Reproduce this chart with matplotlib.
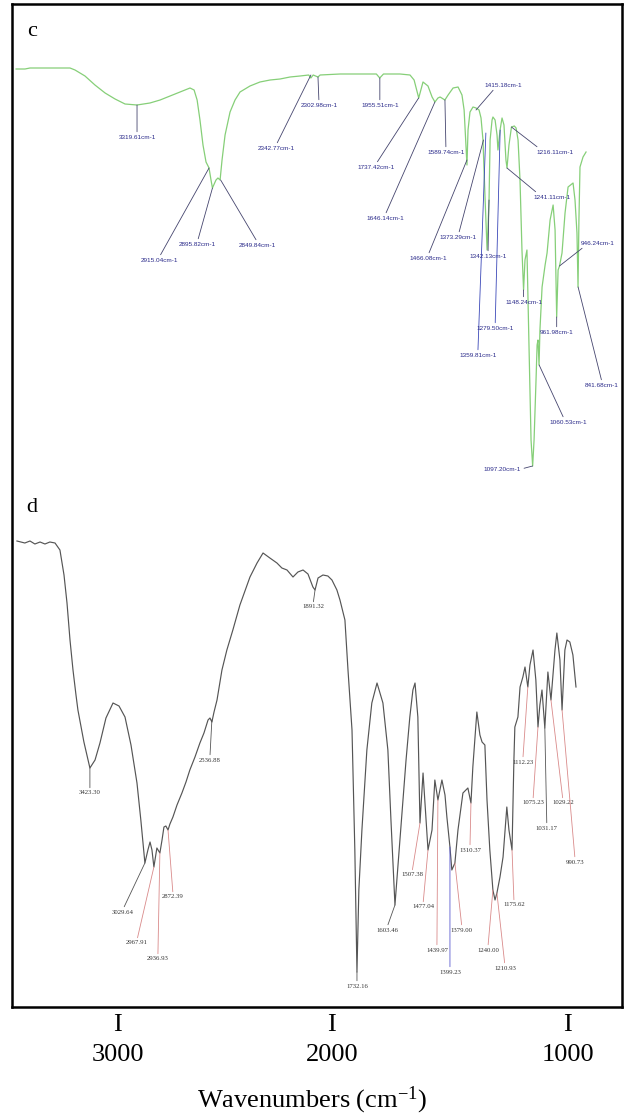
import numpy as np
import matplotlib
matplotlib.use('Agg')
import matplotlib.pyplot as plt

plt.rcParams['font.family'] = ['Liberation Serif', 'DejaVu Serif']
plt.rcParams['mathtext.default'] = 'regular'

# ---- panel c : wavenumber (cm-1) / transmittance (%)
c_wn = [3999, 3949, 3921, 3808, 3696, 3668, 3612, 3556, 3499, 3443,
        3387, 3320, 3247, 3190, 3134, 3078, 3022, 2999, 2982, 2966,
        2949, 2932, 2915, 2904, 2896, 2876, 2865, 2853, 2842, 2825,
        2797, 2769, 2741, 2685, 2629, 2572, 2516, 2460, 2404, 2355,
        2343, 2330, 2303, 2291, 2179, 2067, 1975, 1956, 1935, 1842,
        1786, 1763, 1737, 1725, 1713, 1685, 1662, 1646, 1629, 1617,
        1590, 1572, 1544, 1516, 1494, 1482, 1466, 1460, 1449, 1432,
        1415, 1398, 1387, 1376, 1364, 1353, 1342, 1336, 1325, 1320,
        1308, 1297, 1292, 1280, 1269, 1258, 1247, 1241, 1230, 1216,
        1200, 1190, 1179, 1168, 1157, 1148, 1140, 1129, 1117, 1106,
        1097, 1089, 1078, 1072, 1067, 1061, 1056, 1044, 1027, 1016,
        999, 982, 971, 962, 954, 946, 932, 915, 898, 870,
        859, 848, 842, 837, 831, 814, 797]
c_t = [86.2, 86.2, 86.4, 86.4, 86.4, 86.0, 84.8, 83.0, 81.4, 80.2,
       79.2, 79.0, 79.4, 80.0, 80.8, 81.6, 82.4, 82.0, 80.0, 76.0,
       71.0, 67.6, 66.4, 64.0, 62.4, 64.0, 64.4, 64.0, 68.0, 73.0,
       77.6, 80.0, 81.6, 82.8, 83.6, 84.0, 84.2, 84.6, 84.8, 85.0,
       84.4, 85.0, 84.6, 85.0, 85.2, 85.2, 85.2, 84.4, 85.2, 85.2,
       85.0, 84.0, 80.4, 82.0, 83.6, 82.8, 80.6, 79.6, 80.4, 80.6,
       80.0, 81.0, 82.4, 82.6, 81.0, 78.0, 67.0, 74.0, 77.6, 78.6,
       78.4, 78.0, 76.4, 72.0, 60.0, 50.0, 60.0, 72.0, 76.0, 76.6,
       76.0, 73.0, 70.0, 74.0, 76.4, 75.0, 68.0, 66.4, 71.0, 74.6,
       74.8, 74.4, 72.0, 64.0, 50.0, 42.0, 48.0, 50.0, 30.0, 12.0,
       6.8, 12.0, 24.0, 31.0, 32.0, 27.0, 34.0, 42.6, 47.0, 49.4,
       56.0, 59.0, 54.0, 36.6, 46.0, 46.8, 49.4, 57.4, 62.6, 63.4,
       60.0, 53.4, 42.6, 56.0, 66.6, 68.6, 69.6]

c_peaks = [3319.61, 2915.04, 2895.82, 2849.84, 2342.77, 2302.98, 1955.51,
           1737.42, 1646.14, 1589.74, 1466.08, 1415.18, 1373.29, 1359.81,
           1342.13, 1279.50, 1241.11, 1216.11, 1148.24, 1097.20, 1060.53,
           961.98, 946.24, 841.68]
c_peak_t = [79.0, 66.4, 62.4, 64.0, 85.0, 84.6, 84.4,
            80.4, 79.6, 80.0, 68.0, 78.0, 72.0, 73.4,
            60.0, 74.0, 66.4, 74.6, 42.0, 6.8, 27.0,
            36.6, 46.8, 42.6]

# ---- panel d : position on the bottom wavenumber axis / transmittance (%)
d_wn = [3472, 3435, 3411, 3388, 3364, 3341, 3318, 3294, 3271, 3252,
        3238, 3224, 3210, 3196, 3187, 3159, 3131, 3107, 3084, 3056,
        3023, 2995, 2967, 2939, 2911, 2893, 2874, 2860, 2850, 2841,
        2832, 2818, 2804, 2794, 2785, 2776, 2766, 2757, 2743, 2724,
        2701, 2682, 2664, 2640, 2617, 2598, 2579, 2570, 2561, 2551,
        2537, 2514, 2491, 2463, 2430, 2383, 2350, 2322, 2290, 2257,
        2234, 2210, 2182, 2159, 2135, 2112, 2089, 2079, 2065, 2042,
        2019, 2000, 1979, 1966, 1945, 1932, 1915, 1903, 1894, 1886,
        1873, 1852, 1831, 1809, 1784, 1763, 1750, 1733, 1725, 1712,
        1699, 1686, 1670, 1657, 1648, 1636, 1627, 1614, 1602, 1593,
        1576, 1564, 1551, 1534, 1521, 1513, 1500, 1492, 1479, 1466,
        1445, 1424, 1411, 1403, 1386, 1373, 1364, 1352, 1343, 1331,
        1318, 1309, 1301, 1288, 1275, 1259, 1250, 1237, 1229, 1225,
        1212, 1203, 1191, 1182, 1170, 1161, 1148, 1136, 1127, 1119,
        1110, 1098, 1085, 1072, 1055, 1047, 1034, 1025, 1013, 1004,
        992, 979, 966]
d_t = [89.8, 89.4, 89.8, 89.2, 89.6, 89.2, 89.6, 89.4, 88.0, 83.0,
       77.4, 70.0, 64.0, 59.0, 56.0, 49.6, 44.4, 46.0, 49.4, 54.4,
       57.4, 56.8, 54.6, 49.0, 41.4, 34.0, 25.4, 28.0, 29.6, 28.0,
       24.6, 28.4, 27.4, 30.0, 32.6, 32.8, 32.0, 33.2, 34.6, 37.0,
       39.4, 41.6, 44.0, 46.6, 49.4, 51.4, 54.0, 54.4, 53.6, 55.6,
       58.0, 64.0, 68.0, 72.0, 77.0, 82.6, 85.4, 87.4, 86.4, 85.4,
       84.4, 84.0, 82.6, 83.6, 84.0, 83.2, 80.6, 80.0, 82.4, 83.0,
       82.8, 82.0, 80.0, 78.0, 74.0, 64.0, 52.0, 28.0, 3.6, 20.0,
       32.0, 48.0, 57.4, 61.4, 57.4, 48.0, 34.0, 17.0, 22.0, 30.0,
       38.0, 46.0, 54.6, 60.0, 61.4, 54.6, 33.4, 43.4, 34.6, 28.0,
       32.0, 42.0, 38.0, 42.0, 39.0, 34.6, 28.6, 24.0, 25.4, 32.0,
       39.4, 40.4, 37.4, 44.6, 55.6, 51.0, 49.6, 49.0, 38.0, 28.0,
       20.0, 18.0, 19.4, 22.6, 26.6, 36.6, 32.0, 28.0, 46.0, 52.6,
       54.6, 60.6, 62.6, 64.6, 60.6, 65.0, 68.0, 62.0, 52.6, 57.0,
       60.0, 52.4, 63.6, 58.0, 68.0, 71.4, 66.0, 56.0, 68.0, 70.0,
       69.6, 67.0, 60.6]

d_labels = ['3423.30', '3029.64', '2967.91', '2936.93', '2872.39', '2536.88',
            '1891.32', '1732.16', '1603.46', '1507.38', '1477.04', '1439.97',
            '1399.23', '1379.00', '1310.37', '1240.00', '1210.93', '1175.62',
            '1112.23', '1075.23', '1031.17', '1029.22', '990.73']
d_label_wn = [3131, 2874, 2832, 2804, 2766, 2561,
              2079, 1894, 1733, 1627, 1593, 1551,
              1500, 1479, 1411, 1318, 1301, 1237,
              1170, 1127, 1098, 1072, 1025]
d_label_t = [44.4, 25.4, 24.6, 27.4, 32.0, 54.0,
             80.0, 3.6, 17.0, 33.4, 28.0, 38.0,
             28.6, 25.4, 37.4, 20.0, 19.4, 28.0,
             60.6, 52.6, 52.4, 58.0, 56.0]

ticks = [3000, 2000, 1000]

# label placement (pixel offsets from the pointed spot) and pointer colours
c_off = [(0, -32), (-50, -92), (-15, -56), (37, -65), (-35, -73), (1, -28),
         (0, -27), (-43, -69), (-50, -116), (1, -52), (-39, -98), (27, 25),
         (-25, -97), (-8, -222), (-1, -56), (-5, -198), (45, -29), (44, -25),
         (0, -12), (-30, -3), (29, -57), (0, -15), (38, 23), (24, -98)]
c_rel = {'1415.18': (0.3, 0), '1241.11': (0.15, 1), '1216.11': (0.1, 1),
         '1097.20': (1, 0.5), '946.24': (0.15, 0), '1060.53': (0.4, 1)}
c_blue = ['1359.81', '1279.50']

d_off = [(0, -25), (-22, -49), (-17, -76), (-2, -106), (5, -67), (-2, -40),
         (-2, -17), (0, -14), (-8, -25), (-8, -52), (-5, -57), (-1, -150),
         (0, -125), (7, -67), (-1, -47), (-5, -60), (8, -75), (2, -55),
         (-5, -75), (-5, -76), (2, -100), (12, -103), (13, -152)]
d_red = ['2967.91', '2936.93', '2872.39', '1507.38', '1477.04', '1439.97',
         '1379.00', '1310.37', '1240.00', '1210.93', '1175.62', '1112.23',
         '1075.23', '1029.22', '990.73']


# the printed wavenumber axis is not quite linear: 3000-2000 is narrower
def fwd(w):
    return np.interp(w, [0, 1000, 2000, 3000, 5000], [0, 236, 472, 686, 1114])


def inv(u):
    return np.interp(u, [0, 236, 472, 686, 1114], [0, 1000, 2000, 3000, 5000])


W, H = 628, 1116
fig = plt.figure(figsize=(W / 100, H / 100), dpi=100)

# outer frame round both panels
ax_f = fig.add_axes([12 / W, 1 - 1007 / H, 610 / W, 1003 / H])
ax_f.set_xticks([])
ax_f.set_yticks([])
for s in ax_f.spines.values():
    s.set_linewidth(1.8)

# panel c
ax_c = fig.add_axes([12 / W, 1 - 480 / H, 610 / W, 476 / H])
ax_c.patch.set_alpha(0)
ax_c.plot(c_wn, c_t, color='#86cf78', lw=0.9)
ax_c.set_xlim(4022, 595)
ax_c.set_ylim(4, 99.2)
ax_c.axis('off')
for w, t, off in zip(c_peaks, c_peak_t, c_off):
    key = '%.2f' % w
    lc = '#3b48b8' if key in c_blue else '#45456e'
    ax_c.annotate(key + 'cm-1', xy=(w, t), xytext=off, textcoords='offset pixels',
                  ha='center', va='center', fontsize=4.6, color='#2a2a8a',
                  family=['Liberation Sans Narrow', 'Liberation Sans'],
                  arrowprops=dict(arrowstyle='-', color=lc, lw=0.6,
                                  shrinkA=0, shrinkB=0,
                                  relpos=c_rel.get(key, (0.5, 1))))

# panel d
ax_d = fig.add_axes([12 / W, 1 - 1007 / H, 610 / W, 527 / H])
ax_d.patch.set_alpha(0)
ax_d.set_xscale('function', functions=(fwd, inv))
ax_d.plot(d_wn, d_t, color='#555555', lw=0.85)
ax_d.set_xlim(3495, 771)
ax_d.set_ylim(-3.4, 102)
for s in ax_d.spines.values():
    s.set_visible(False)
ax_d.set_yticks([])
ax_d.set_xticks(ticks)
ax_d.set_xticklabels(['I\n%d' % t for t in ticks], fontsize=19, linespacing=1.45)
ax_d.tick_params(axis='x', length=0, pad=5)
for lab, w, t, off in zip(d_labels, d_label_wn, d_label_t, d_off):
    if lab in d_red:
        lc = '#d98a8a'
    elif lab == '1399.23':
        lc = '#5a5ad0'
    else:
        lc = '#555555'
    ax_d.annotate(lab, xy=(w, t), xytext=off, textcoords='offset pixels',
                  ha='center', va='center', fontsize=4.9, color='#333333',
                  arrowprops=dict(arrowstyle='-', color=lc, lw=0.6,
                                  shrinkA=0, shrinkB=0, relpos=(0.5, 1)))

fig.text(32 / W, 1 - 31 / H, 'c', fontsize=16, ha='center', va='center')
fig.text(32 / W, 1 - 507 / H, 'd', fontsize=16, ha='center', va='center')
fig.text(312 / W, 1 - 1100 / H, 'Wavenumbers (cm$^{-1}$)', fontsize=19,
         ha='center', va='center')

fig.savefig('out.png', dpi=100)
